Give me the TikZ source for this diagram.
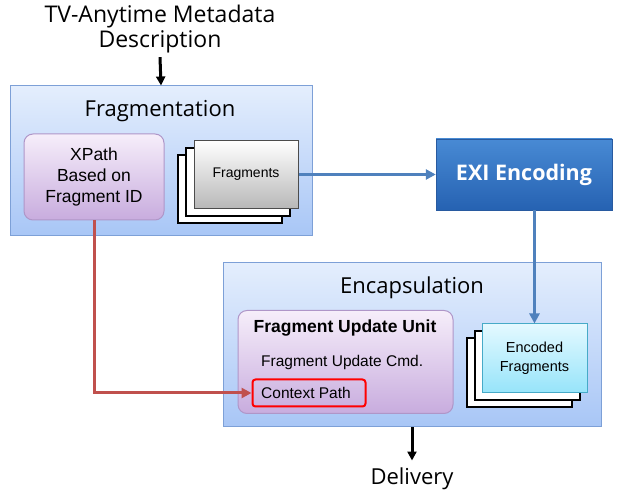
\documentclass[tikz,border=0pt]{standalone}
\usepackage{fontspec}
\setmainfont{Open Sans}
\newfontfamily\arialfont{Liberation Sans}
\usetikzlibrary{arrows.meta}
\definecolor{stageline}{RGB}{125,160,215}
\definecolor{stagetop}{RGB}{228,238,253}
\definecolor{stagebot}{RGB}{168,198,246}
\definecolor{unitline}{RGB}{175,150,200}
\definecolor{unittop}{RGB}{246,238,250}
\definecolor{unitbot}{RGB}{200,172,222}
\definecolor{exitop}{RGB}{72,138,212}
\definecolor{exibot}{RGB}{38,98,178}
\definecolor{exiline}{RGB}{40,90,160}
\definecolor{codedtop}{RGB}{228,249,255}
\definecolor{codedbot}{RGB}{150,228,250}
\definecolor{codedline}{RGB}{70,170,200}
\definecolor{flowblue}{RGB}{79,129,189}
\definecolor{flowred}{RGB}{192,80,77}

\begin{document}
\begin{tikzpicture}[
        x=1pt,
        y=-1pt,
        every node/.style={font=\arialfont, inner sep=0pt},
        stage/.style={
            draw=stageline,
            line width=1pt,
            top color=stagetop,
            bottom color=stagebot
        },
        unit/.style={
            draw=unitline,
            line width=1pt,
            rounded corners=9pt,
            top color=unittop,
            bottom color=unitbot
        },
        sheet/.style={
            draw=black,
            line width=2pt,
            fill=white
        },
        title/.style={font=\fontsize{22}{25}\selectfont},
        flowarrow/.style={-{Triangle[length=9pt,width=9pt]}, line width=3pt}
    ]
        \useasboundingbox (0,0) rectangle (627,494);

        % Input text on top
        \node[font=\fontsize{23}{25}\selectfont, align=center] (input) at (160,29)
            {TV-Anytime Metadata\\Description};

        % Fragmentation stage
        \node[stage, minimum width=302pt, minimum height=150pt]
            (fragstage) at (161,161) {};
        \node[title] at (160,111) {Fragmentation};

        \node[unit, minimum width=140pt, minimum height=86pt,
              align=center, font=\arialfont\fontsize{17.5}{21}\selectfont]
            (xpath) at (94,177) {XPath\\Based on\\Fragment ID};

        % Fragments: two sheets behind, one in front
        \node[sheet, minimum width=104pt, minimum height=68pt]
            (frag3) at (230,189) {};
        \node[sheet, minimum width=104pt, minimum height=68pt]
            (frag2) at (238,182) {};
        \node[draw=black!70, line width=1pt, top color=white,
              bottom color=black!28, minimum width=104pt,
              minimum height=68pt, font=\arialfont\fontsize{14}{16}\selectfont]
            (frag1) at (246,174.5) {Fragments};

        % EXI encoding
        \node[draw=exiline, top color=exitop, bottom color=exibot,
              minimum width=176pt, minimum height=71pt, text=white,
              font=\fontsize{21.5}{24}\selectfont\bfseries]
            (exi) at (524,174.5) {EXI Encoding};

        % Encapsulation stage
        \node[stage, minimum width=378pt, minimum height=164pt]
            (encstage) at (412,345) {};
        \node[title] at (412,288) {Encapsulation};

        \node[unit, minimum width=215pt, minimum height=103pt]
            (fuu) at (345.5,362) {};
        \node[font=\arialfont\fontsize{17.5}{20}\selectfont\bfseries]
            (fuutitle) at (345,328) {Fragment Update Unit};
        \node[anchor=west, font=\arialfont\fontsize{15.5}{18}\selectfont]
            (cmd) at (261,362) {Fragment Update Cmd.};
        \node[draw=red, line width=2pt, rounded corners=3pt,
              minimum width=113pt, minimum height=27pt]
            (ctx) at (309,393) {};
        \node[anchor=west, font=\arialfont\fontsize{15.5}{18}\selectfont]
            at (261,393) {Context Path};

        % Encoded fragments
        \node[sheet, minimum width=105pt, minimum height=69pt]
            (coded3) at (519.5,372.5) {};
        \node[sheet, minimum width=105pt, minimum height=69pt]
            (coded2) at (527,365.5) {};
        \node[draw=codedline, line width=1pt, top color=codedtop,
              bottom color=codedbot, minimum width=105pt,
              minimum height=69pt, align=center,
              font=\arialfont\fontsize{14.5}{18.5}\selectfont]
            (coded1) at (534.5,358.5) {Encoded\\Fragments};

        % Output text
        \node[title] (output) at (412,479) {Delivery};

        % Connectors
        \draw[flowarrow] (input.south) ++(0,4) coordinate (intop)
            (intop) -- (fragstage.north);
        \draw[flowarrow, draw=flowblue, line width=2.5pt,
              -{Triangle[length=10pt,width=10pt]}]
            (frag1.east) -- (exi.west);
        \draw[flowarrow, draw=flowblue, line width=2.5pt,
              -{Triangle[length=10pt,width=10pt]}]
            (exi.south -| coded1.north) -- (coded1.north);
        \draw[flowarrow, draw=flowred, line width=3pt,
              -{Triangle[length=10pt,width=10pt]}]
            (xpath.south) |- (ctx.west);
        \draw[flowarrow] (encstage.south) -- ++(0,33) coordinate (outend);
    \end{tikzpicture}
\end{document}
